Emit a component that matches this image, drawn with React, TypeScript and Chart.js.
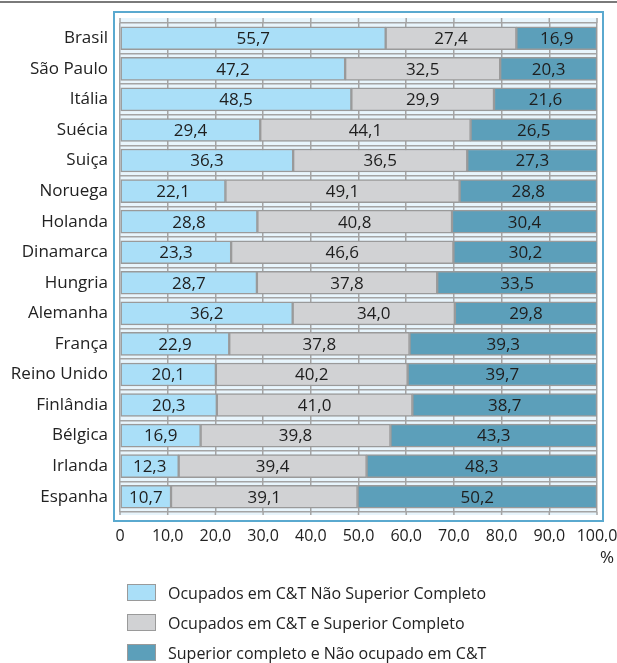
import React, { useEffect, useRef } from "react";
import { Chart, registerables } from "chart.js";

Chart.register(...registerables);

const categories = [
  "Brasil", "São Paulo", "Itália", "Suécia", "Suiça", "Noruega", "Holanda", "Dinamarca",
  "Hungria", "Alemanha", "França", "Reino Unido", "Finlândia", "Bélgica", "Irlanda", "Espanha",
];
const ocupadosNaoSuperior = [55.7, 47.2, 48.5, 29.4, 36.3, 22.1, 28.8, 23.3, 28.7, 36.2, 22.9, 20.1, 20.3, 16.9, 12.3, 10.7];
const ocupadosSuperior = [27.4, 32.5, 29.9, 44.1, 36.5, 49.1, 40.8, 46.6, 37.8, 34.0, 37.8, 40.2, 41.0, 39.8, 39.4, 39.1];
const superiorNaoOcupado = [16.9, 20.3, 21.6, 26.5, 27.3, 28.8, 30.4, 30.2, 33.5, 29.8, 39.3, 39.7, 38.7, 43.3, 48.3, 50.2];
const seriesLabels = [
  "Ocupados em C&T Não Superior Completo",
  "Ocupados em C&T e Superior Completo",
  "Superior completo e Não ocupado em C&T",
];
const xTicks = [0, 10, 20, 30, 40, 50, 60, 70, 80, 90, 100];
const unitLabel = "%";

const colors = ["#aadff8", "#d1d2d4", "#5c9fba"];
const FONT = "'Open Sans', 'Noto Sans', sans-serif";
const GRID = "#a4a4a4";

const fmt = (v: number) => (v === 0 ? "0" : v.toFixed(1).replace(".", ","));

export default function App() {
  const ref = useRef<HTMLCanvasElement | null>(null);

  useEffect(() => {
    if (!ref.current) return;
    const EXT_TOP = 5;
    const EXT_BOTTOM = 3;
    const framePlugin = {
      id: "framePlugin",
      beforeDraw(chart: any) {
        const { ctx, chartArea: a } = chart;
        ctx.save();
        ctx.fillStyle = "#e8f5fc";
        ctx.fillRect(a.left, a.top - EXT_TOP, a.right - a.left, a.bottom - a.top + EXT_TOP + EXT_BOTTOM);
        ctx.strokeStyle = "#5aa9cf";
        ctx.lineWidth = 2;
        ctx.strokeRect(a.left - 6, a.top - EXT_TOP - 6, a.right - a.left + 12, a.bottom - a.top + EXT_TOP + EXT_BOTTOM + 12);
        // extend vertical grid lines into the top/bottom margins of the plot panel
        const xs = chart.scales.x;
        ctx.strokeStyle = GRID;
        ctx.lineWidth = 1.5;
        xTicks.forEach((v) => {
          const px = xs.getPixelForValue(v);
          ctx.beginPath();
          ctx.moveTo(px, a.top - EXT_TOP);
          ctx.lineTo(px, a.top);
          ctx.moveTo(px, a.bottom);
          ctx.lineTo(px, a.bottom + EXT_BOTTOM);
          ctx.stroke();
        });
        ctx.restore();
      },
      afterDraw(chart: any) {
        const { ctx, chartArea: a } = chart;
        ctx.save();
        ctx.font = `17px ${FONT}`;
        ctx.fillStyle = "#222";
        ctx.textAlign = "right";
        ctx.textBaseline = "middle";
        ctx.fillText(unitLabel, 614, a.bottom + 46);
        ctx.restore();
      },
      afterDatasetsDraw(chart: any) {
        const { ctx } = chart;
        ctx.save();
        ctx.font = `17px ${FONT}`;
        ctx.fillStyle = "#1e1e1e";
        ctx.textAlign = "center";
        ctx.textBaseline = "middle";
        chart.data.datasets.forEach((ds: any, di: number) => {
          const meta = chart.getDatasetMeta(di);
          meta.data.forEach((el: any, i: number) => {
            const cx = (el.x + el.base) / 2;
            ctx.fillText(fmt(ds.data[i]), cx, el.y + 1);
          });
        });
        ctx.restore();
      },
    };

    const data = [ocupadosNaoSuperior, ocupadosSuperior, superiorNaoOcupado];
    const chart = new Chart(ref.current, {
      type: "bar",
      data: {
        labels: categories,
        datasets: data.map((d, i) => ({
          label: seriesLabels[i],
          data: d,
          backgroundColor: colors[i],
          borderColor: "#9a9a9a",
          borderWidth: 1.5,
          borderSkipped: false,
          barThickness: 23,
        })),
      },
      options: {
        indexAxis: "y",
        animation: false,
        responsive: false,
        layout: { padding: { left: 0, right: 20, top: 23, bottom: 121 } },
        plugins: { legend: { display: false }, tooltip: { enabled: false } },
        scales: {
          x: {
            stacked: true,
            min: 0,
            max: 100,
            afterBuildTicks(scale: any) {
              scale.ticks = xTicks.map((v) => ({ value: v }));
            },
            afterFit(scale: any) {
              scale.height = 30;
              scale.paddingLeft = 0;
              scale.paddingRight = 0;
            },
            grid: { color: GRID, lineWidth: 1.5, drawTicks: false },
            border: { display: false },
            ticks: {
              padding: 15,
              color: "#222",
              font: { family: FONT, size: 16 },
              callback: (v: any) => fmt(Number(v)),
              maxRotation: 0,
            },
          },
          y: {
            stacked: true,
            afterFit(scale: any) {
              scale.width = 120;
              scale.paddingTop = 0;
              scale.paddingBottom = 0;
            },
            grid: { color: GRID, lineWidth: 1.5, drawTicks: false, offset: true },
            border: { display: false },
            ticks: {
              padding: 12,
              color: "#222",
              font: { family: FONT, size: 17 },
            },
          },
        },
      },
      plugins: [framePlugin],
    });
    return () => chart.destroy();
  }, []);

  return (
    <div style={{ position: "fixed", left: 0, top: 0, width: 617, height: 663, background: "#fff", overflow: "hidden" }}>
      <div style={{ position: "absolute", left: 0, top: 1, width: 617, height: 2, background: "#7a7a7a" }} />
      <canvas ref={ref} width={617} height={663} style={{ position: "absolute", left: 0, top: 0 }} />
      {seriesLabels.map((l, i) => (
        <div
          key={l}
          style={{
            position: "absolute",
            left: 127,
            top: 584 + i * 30,
            height: 17,
            display: "flex",
            alignItems: "center",
            fontFamily: FONT,
            fontSize: 16,
            color: "#222",
            whiteSpace: "nowrap",
          }}
        >
          <span
            style={{
              display: "inline-block",
              width: 27,
              height: 15,
              background: colors[i],
              border: "1px solid #9a9a9a",
              marginRight: 12,
            }}
          />
          {l}
        </div>
      ))}
    </div>
  );
}
